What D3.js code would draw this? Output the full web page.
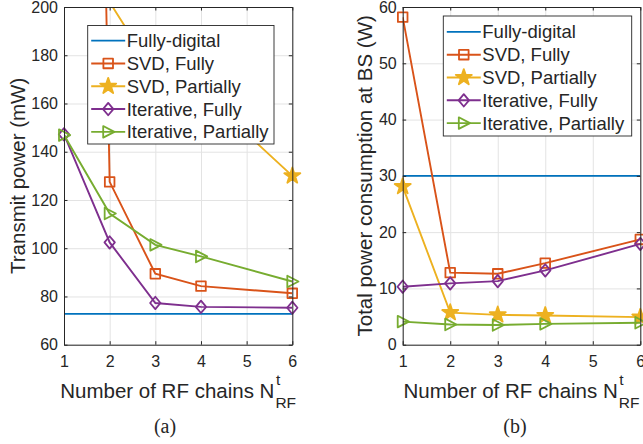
<!DOCTYPE html>
<html>
<head>
<meta charset="utf-8">
<script src="https://cdn.jsdelivr.net/npm/d3@7"></script>
<style>
  body { margin: 0; background: #fff; }
  svg { display: block; }
  text { fill: #262626; font-family: 'Liberation Sans', Arial, sans-serif; }
</style>
</head>
<body>
<div class="visual"></div>
<script>
const [width, height] = [643, 444];

// data
const nRF = [1, 2, 3, 4, 6];
const xTicks = [1, 2, 3, 4, 5, 6];
const seriesNames = ['Fully-digital', 'SVD, Fully', 'SVD, Partially', 'Iterative, Fully', 'Iterative, Partially'];

// (a) transmit power, mW
const txTicks = [60, 80, 100, 120, 140, 160, 180, 200];
const txFullyDigital = [72.8, 72.8, 72.8, 72.8, 72.8];
const txSvdFully = [1100, 127.5, 89.4, 84.3, 81.3];
const txSvdPartially = [1000, 202, 172, 165, 130];
const txIterFully = [147.2, 102.4, 77.3, 75.7, 75.3];
const txIterPartially = [146.9, 114.4, 101.4, 96.6, 86.2];

// (b) total power consumption at BS, W
const pwTicks = [0, 10, 20, 30, 40, 50, 60];
const pwFullyDigital = [30, 30, 30, 30, 30];
const pwSvdFully = [58.2, 12.8, 12.6, 14.5, 18.7];
const pwSvdPartially = [28.1, 5.7, 5.3, 5.2, 4.9];
const pwIterFully = [10.3, 10.9, 11.3, 13.2, 17.9];
const pwIterPartially = [4.1, 3.6, 3.5, 3.7, 3.9];

const colors = ['#0072BD', '#D95319', '#EDB120', '#7E2F8E', '#77AC30'];
const markers = [null, 'square', 'star', 'diamond', 'triangle'];
const AXIS = '#262626';

const markerPath = (type) => {
  switch (type) {
    case 'square':
      return 'M-4.8,-4.8H4.8V4.8H-4.8Z';
    case 'diamond':
      return 'M0,-6.2L5.2,0L0,6.2L-5.2,0Z';
    case 'triangle':
      return 'M-5,-5.8L6.2,0L-5,5.8Z';
    case 'star':
      return d3.symbol(d3.symbolStar, 80)();
    default:
      return null;
  }
};

const svg = d3
  .select('.visual')
  .append('svg')
  .attr('width', width)
  .attr('height', height);

const drawPanel = (cfg) => {
  const { id, left, right, top, bottom, yDomain, yTicks, series, yLabel, legend, caption } = cfg;
  const x = d3.scaleLinear().domain([1, 6]).range([left, right]);
  const y = d3.scaleLinear().domain(yDomain).range([bottom, top]);
  const g = svg.append('g');

  svg
    .append('clipPath')
    .attr('id', 'clip-' + id)
    .append('rect')
    .attr('x', left)
    .attr('y', top)
    .attr('width', right - left)
    .attr('height', bottom - top);

  // grid
  g.append('g')
    .attr('transform', `translate(0,${bottom})`)
    .call(d3.axisBottom(x).tickValues(xTicks).tickSize(-(bottom - top)).tickFormat(''))
    .call((s) => s.select('.domain').remove())
    .selectAll('line')
    .attr('stroke', '#e3e3e3');
  g.append('g')
    .attr('transform', `translate(${left},0)`)
    .call(d3.axisLeft(y).tickValues(yTicks).tickSize(-(right - left)).tickFormat(''))
    .call((s) => s.select('.domain').remove())
    .selectAll('line')
    .attr('stroke', '#e3e3e3');

  // series
  const line = d3
    .line()
    .x((d, i) => x(nRF[i]))
    .y((d) => y(d));
  const drawMarker = (sel, k) =>
    sel
      .attr('d', markerPath(markers[k]))
      .attr('fill', markers[k] === 'star' ? colors[k] : 'none')
      .attr('stroke', colors[k])
      .attr('stroke-width', 1.8)
      .attr('stroke-linejoin', 'round');
  series.forEach((vals, k) => {
    g.append('path')
      .datum(vals)
      .attr('clip-path', `url(#clip-${id})`)
      .attr('d', line)
      .attr('fill', 'none')
      .attr('stroke', colors[k])
      .attr('stroke-width', 1.9);
    if (markers[k]) {
      g.selectAll(null)
        .data(vals.map((v, i) => [nRF[i], v]).filter((d) => d[1] <= yDomain[1]))
        .enter()
        .append('path')
        .attr('transform', (d) => `translate(${x(d[0])},${y(d[1])})`)
        .call(drawMarker, k);
    }
  });

  // axes with inward ticks on all sides
  const styleAxis = (s) => {
    s.select('.domain').attr('stroke', AXIS);
    s.selectAll('.tick line').attr('stroke', AXIS);
    s.selectAll('text').attr('fill', AXIS).style('font-size', '16px').attr('font-family', null);
  };
  const fmt = d3.format('d');
  g.append('g')
    .attr('transform', `translate(0,${bottom})`)
    .call(d3.axisBottom(x).tickValues(xTicks).tickFormat(fmt).tickSizeInner(-3.5).tickSizeOuter(0).tickPadding(11))
    .call(styleAxis);
  g.append('g')
    .attr('transform', `translate(${left},0)`)
    .call(d3.axisLeft(y).tickValues(yTicks).tickFormat(fmt).tickSizeInner(-3.5).tickSizeOuter(0).tickPadding(6))
    .call(styleAxis);
  g.append('g')
    .attr('transform', `translate(0,${top})`)
    .call(d3.axisTop(x).tickValues(xTicks).tickSizeInner(-3.5).tickSizeOuter(0).tickFormat(''))
    .call(styleAxis);
  g.append('g')
    .attr('transform', `translate(${right},0)`)
    .call(d3.axisRight(y).tickValues(yTicks).tickSizeInner(-3.5).tickSizeOuter(0).tickFormat(''))
    .call(styleAxis);

  // x label with N^t_RF
  const xl = g.append('g');
  const main = xl
    .append('text')
    .attr('y', 398)
    .style('font-size', '20.5px')
    .text('Number of RF chains N');
  const mainW = main.node().getComputedTextLength();
  xl.append('text')
    .attr('x', mainW + 1.5)
    .attr('y', 385)
    .style('font-size', '15.5px')
    .text('t');
  const sub = xl
    .append('text')
    .attr('x', mainW + 1)
    .attr('y', 408)
    .style('font-size', '15.5px')
    .text('RF');
  const totalW = mainW + 1 + sub.node().getComputedTextLength();
  xl.attr('transform', `translate(${(left + right) / 2 - totalW / 2},0)`);

  // y label
  g.append('text')
    .attr('transform', `translate(${yLabel.x},${(top + bottom) / 2}) rotate(-90)`)
    .attr('text-anchor', 'middle')
    .attr('dy', '0.35em')
    .style('font-size', '20.5px')
    .text(yLabel.text);

  // legend
  const lg = g.append('g');
  lg.append('rect')
    .attr('x', legend.x0)
    .attr('y', legend.y0)
    .attr('width', legend.x1 - legend.x0)
    .attr('height', legend.y1 - legend.y0)
    .attr('fill', '#fff')
    .attr('stroke', AXIS)
    .attr('stroke-width', 0.9);
  const midY = (legend.y0 + legend.y1) / 2 + 1.5;
  seriesNames.forEach((name, k) => {
    const ry = midY + (k - 2) * 22.8;
    const lx0 = legend.x0 + 3.5;
    const lx1 = legend.x0 + 37.5;
    lg.append('line')
      .attr('x1', lx0)
      .attr('x2', lx1)
      .attr('y1', ry)
      .attr('y2', ry)
      .attr('stroke', colors[k])
      .attr('stroke-width', 1.9);
    if (markers[k]) {
      lg.append('path')
        .attr('transform', `translate(${(lx0 + lx1) / 2},${ry})`)
        .call(drawMarker, k);
    }
    lg.append('text')
      .attr('x', legend.x0 + 39)
      .attr('y', ry)
      .attr('dy', '0.35em')
      .style('font-size', '18.5px')
      .text(name);
  });

  // caption
  g.append('text')
    .attr('x', caption.x)
    .attr('y', 433)
    .attr('text-anchor', 'middle')
    .style('font-family', "'Liberation Serif', 'Times New Roman', serif")
    .style('font-size', '20px')
    .text(caption.text);
};

drawPanel({
  id: 'a',
  left: 64,
  right: 292.3,
  top: 7,
  bottom: 344.7,
  yDomain: [60, 200],
  yTicks: txTicks,
  series: [txFullyDigital, txSvdFully, txSvdPartially, txIterFully, txIterPartially],
  yLabel: { x: 17.5, text: 'Transmit power (mW)' },
  legend: { x0: 87.7, x1: 274, y0: 25.5, y1: 144 },
  caption: { x: 165, text: '(a)' },
});

drawPanel({
  id: 'b',
  left: 402.7,
  right: 640.3,
  top: 7,
  bottom: 344.7,
  yDomain: [0, 60],
  yTicks: pwTicks,
  series: [pwFullyDigital, pwSvdFully, pwSvdPartially, pwIterFully, pwIterPartially],
  yLabel: { x: 365, text: 'Total power consumption at BS (W)' },
  legend: { x0: 443.3, x1: 631.7, y0: 16, y1: 136 },
  caption: { x: 515, text: '(b)' },
});
</script>
</body>
</html>
